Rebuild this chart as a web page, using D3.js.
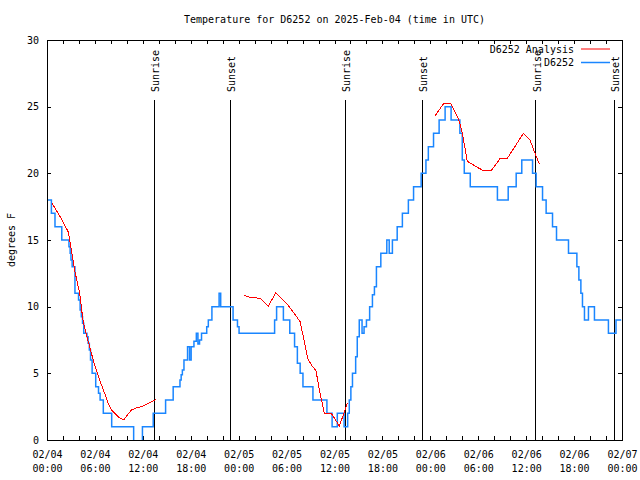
<!DOCTYPE html>
<html><head><meta charset="utf-8">
<script src="https://cdn.jsdelivr.net/npm/d3@7"></script>
<style>
body{margin:0;background:#fff;}
svg text{font-family:"DejaVu Sans Mono","Liberation Mono",monospace;font-size:10px;fill:#000;}
</style></head><body>
<svg id="chart" width="640" height="480"></svg>
<script>
// ---------- data ----------
const titleText = "Temperature for D6252 on 2025-Feb-04 (time in UTC)";
const yLabelText = "degrees F";
const seriesNames = ["D6252 Analysis", "D6252"];
const seriesColors = ["#ff0000", "#1a86ff"];
const xTickHours = [0,6,12,18,24,30,36,42,48,54,60,66,72];
const xTickDates = ["02/04","02/04","02/04","02/04","02/05","02/05","02/05","02/05","02/06","02/06","02/06","02/06","02/07"];
const xTickTimes = ["00:00","06:00","12:00","18:00","00:00","06:00","12:00","18:00","00:00","06:00","12:00","18:00","00:00"];
const yTicks = [0,5,10,15,20,25,30];
const sunEventHours = [13.4, 22.92, 37.35, 47.0, 61.23, 71.04];
const sunEventLabels = ["Sunrise","Sunset","Sunrise","Sunset","Sunrise","Sunset"];

// analysis (hours since 02/04 00:00 UTC, degrees F); null = gap
const analysis = [
 [0.58,17.8],[1.6,16.8],[2.67,15.6],[3.05,14.25],[3.46,12.75],[4.09,11.0],[4.5,9.0],[4.92,7.9],
 [5.34,7.0],[5.97,5.6],[6.59,4.5],[7.22,3.5],[7.64,2.75],[8.06,2.25],[8.89,1.75],[9.6,1.5],
 [10.56,2.25],[11.18,2.4],[12.02,2.55],[12.85,2.8],[13.68,3.05],
 [18,null],
 [24.67,10.85],[25.42,10.7],[26.67,10.63],[27.71,10.05],[28.67,11.05],[30.0,10.25],[31.68,8.9],
 [32.1,7.75],[32.64,6.1],[33.14,5.6],[33.68,5.2],[34.19,3.5],[34.73,2.0],[35.65,1.95],[36.61,1.05],[37.61,2.75],
 [42,null],
 [48.58,24.3],[49.63,25.2],[50.55,25.25],[51.51,24.1],[51.93,23.25],[52.34,21.9],[52.63,20.9],[53.6,20.55],
 [54.64,20.2],[55.68,20.25],[56.72,21.1],[57.64,21.12],[59.65,23.0],[60.48,22.5],[61.11,21.5],[61.65,20.7]
];

// observations: [hour at which reading changes, value]
const observed = [
 [0.1,18],[0.55,17],[1.0,16],[1.85,15],[2.75,14.5],[2.9,14],[3.0,13.5],[3.15,13],[3.5,11],[3.95,10.5],
 [4.15,9.75],[4.3,9.25],[4.45,8.75],[4.6,8],[5.0,7.75],[5.15,7.25],[5.3,6.75],[5.45,6],[5.65,5],[6.1,4],
 [6.45,3.5],[6.65,3],[7.05,2],[8.1,1],[10.85,-0.5],[11.95,1],[13.3,2],[14.85,3],[15.8,4],[16.65,4.5],
 [16.8,4.9],[16.95,5.25],[17.15,6],[17.6,7],[17.85,6],[18.05,7],[18.4,7.4],[18.7,8],[18.9,7.2],[19.1,7.5],
 [19.35,8],[20.0,8.5],[20.2,9],[20.65,10],[21.55,11],[21.75,10],[23.3,9],[23.85,8.5],[24.05,8],[28.5,9],
 [28.75,10],[29.6,9],[30.4,8],[31.0,7],[31.35,5.75],[31.7,5],[32.05,4],[33.3,3],[35.05,2],[35.7,1],
 [36.35,2],[37.2,1],[37.65,2],[37.85,3],[38.05,4],[38.25,5],[38.65,6.25],[38.85,7.75],[39.1,9],[39.45,8],
 [39.7,8.5],[40.0,9],[40.4,10],[40.75,10.9],[41.0,11.5],[41.25,13],[41.8,14],[42.55,15],[42.85,14],[43.25,15],
 [43.85,16],[44.5,17],[45.25,18],[45.9,19],[46.85,20],[47.45,21],[47.75,22],[48.4,23],[49.1,24],[49.85,25],
 [50.6,24],[51.7,23],[52.0,21],[52.25,20],[53.0,19],[56.4,18],[57.75,19],[58.75,20],[59.45,21],[60.8,20],
 [61.25,19],[62.05,18],[62.5,17],[63.3,16],[63.8,15],[65.3,14],[66.35,13],[66.6,12],[66.85,11],[67.05,10],
 [67.3,9],[67.8,10],[68.55,9],[70.3,8],[71.25,9],[71.9,9]
];

// ---------- layout ----------
const L = 47, R = 622, T = 40, B = 440;
const x = d3.scaleLinear().domain([0, 72]).range([L, R]);
const y = d3.scaleLinear().domain([0, 30]).range([B, T]);
const svg = d3.select("#chart");

svg.append("defs").append("clipPath").attr("id","plotclip")
  .append("rect").attr("x",L).attr("y",T).attr("width",R-L).attr("height",B-T);

// title
svg.append("text").attr("x",(L+R)/2).attr("y",23).attr("text-anchor","middle").text(titleText);

// y label
svg.append("text").attr("transform","translate(11,240) rotate(-90)")
  .attr("text-anchor","middle").attr("dy","0.35em").text(yLabelText);

// ticks (inward, mirrored)
const minorHours = d3.range(0, 73, 2);
function clean(g){ g.select(".domain").remove(); g.selectAll("line").attr("stroke","#000").attr("shape-rendering","crispEdges"); }
svg.append("g").attr("transform",`translate(0,${B})`)
  .call(d3.axisBottom(x).tickValues(minorHours).tickSize(-4).tickFormat("")).call(clean);
svg.append("g").attr("transform",`translate(0,${T})`)
  .call(d3.axisTop(x).tickValues(minorHours).tickSize(-4).tickFormat("")).call(clean);
svg.append("g").attr("transform",`translate(${L},0)`)
  .call(d3.axisLeft(y).tickValues(yTicks).tickSize(-4).tickFormat("")).call(clean);
svg.append("g").attr("transform",`translate(${R},0)`)
  .call(d3.axisRight(y).tickValues(yTicks).tickSize(-4).tickFormat("")).call(clean);

// y tick labels
svg.append("g").attr("transform",`translate(${L},0)`)
  .call(d3.axisLeft(y).tickValues(yTicks).tickSize(0).tickPadding(8))
  .call(g=>g.select(".domain").remove());

// x tick labels (two lines)
const gxl = svg.append("g").attr("transform",`translate(0,${B})`)
  .call(d3.axisBottom(x).tickValues(xTickHours).tickSize(0).tickFormat(""))
  .call(g=>g.select(".domain").remove());
gxl.selectAll(".tick text").each(function(d,i){
  const t = d3.select(this).attr("y",null).attr("dy",null);
  t.append("tspan").attr("x",0).attr("y",18).text(xTickDates[i]);
  t.append("tspan").attr("x",0).attr("y",31.5).text(xTickTimes[i]);
});

// sunrise / sunset markers
const sunTop = y(30*0.85);
const sun = svg.append("g");
sun.selectAll("line").data(sunEventHours).join("line")
  .attr("x1",d=>x(d)).attr("x2",d=>x(d)).attr("y1",sunTop).attr("y2",B)
  .attr("stroke","#000").attr("shape-rendering","crispEdges");
sun.selectAll("text").data(sunEventHours).join("text")
  .attr("transform",d=>`translate(${x(d)+1.5},${sunTop-8}) rotate(-90)`)
  .attr("text-anchor","start").attr("dy","0.35em")
  .text((d,i)=>sunEventLabels[i]);

// data lines
const plot = svg.append("g").attr("clip-path","url(#plotclip)");
plot.append("path").datum(observed)
  .attr("d", d3.line().x(d=>x(d[0])).y(d=>y(d[1])).curve(d3.curveStepAfter))
  .attr("fill","none").attr("stroke",seriesColors[1]).attr("stroke-width",1.5);
plot.append("path").datum(analysis)
  .attr("d", d3.line().defined(d=>d[1]!==null).x(d=>x(d[0])).y(d=>y(d[1])))
  .attr("fill","none").attr("stroke",seriesColors[0]).attr("stroke-width",1)
  .attr("shape-rendering","crispEdges");

// frame
svg.append("rect").attr("x",L).attr("y",T).attr("width",R-L).attr("height",B-T)
  .attr("fill","none").attr("stroke","#000").attr("shape-rendering","crispEdges");

// legend
const legY = [49, 62.5];
const leg = svg.append("g");
seriesNames.forEach((name,i)=>{
  leg.append("text").attr("x",574).attr("y",legY[i]).attr("dy","0.35em")
    .attr("text-anchor","end").text(name);
  leg.append("line").attr("x1",581).attr("x2",610).attr("y1",legY[i]).attr("y2",legY[i])
    .attr("stroke",seriesColors[i]).attr("stroke-width", i===0?1:1.5);
});
</script>
</body></html>
